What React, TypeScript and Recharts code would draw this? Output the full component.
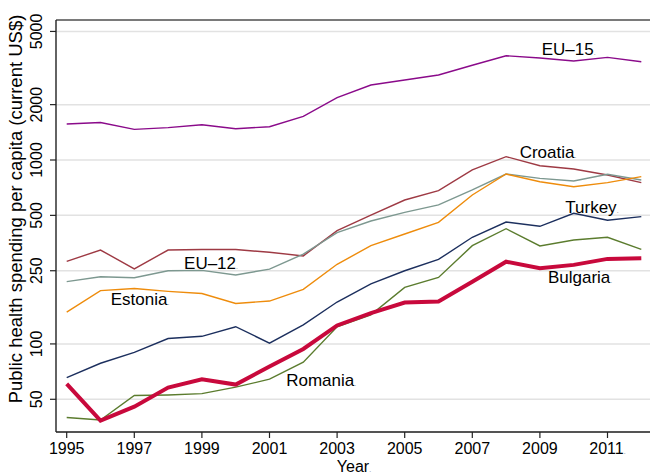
import React from 'react';
import {
  LineChart,
  Line,
  XAxis,
  YAxis,
  CartesianGrid,
  ReferenceLine,
  ReferenceDot,
} from 'recharts';

const YEARS = [1995, 1996, 1997, 1998, 1999, 2000, 2001, 2002, 2003, 2004, 2005, 2006, 2007, 2008, 2009, 2010, 2011, 2012];

const EU15 = [1570, 1600, 1468, 1500, 1556, 1480, 1517, 1728, 2183, 2556, 2723, 2899, 3274, 3688, 3584, 3451, 3615, 3420];
const CROATIA = [281, 324, 256, 324, 326, 326, 315, 301, 413, 502, 606, 681, 883, 1043, 931, 894, 829, 753];
const EU12 = [218, 232, 229, 250, 251, 237, 255, 308, 403, 466, 519, 570, 687, 839, 795, 769, 836, 778];
const ESTONIA = [149, 195, 200, 193, 188, 166, 171, 198, 271, 342, 396, 458, 645, 839, 762, 716, 753, 812];
const TURKEY = [65.6, 78.5, 90, 107, 110, 124, 101, 127, 169, 212, 250, 288, 380, 460, 436, 513, 470, 492];
const ROMANIA = [39.8, 38.6, 52.4, 52.8, 53.7, 58.2, 64.3, 79.5, 124, 144, 203, 230, 342, 423, 341, 367, 380, 327];
const BULGARIA = [60.6, 38.3, 45.6, 57.9, 64.3, 60.1, 75.3, 93.9, 126, 147, 168, 170, 218, 280, 258, 269, 290, 292];

const X_TICKS = [1995, 1997, 1999, 2001, 2003, 2005, 2007, 2009, 2011];
const Y_TICKS = [50, 100, 250, 500, 1000, 2000, 5000];
const Y_DOMAIN = [33.2, 5770];

// series labels, placed in data coordinates (year, value)
const LABEL_TEXT = ['EU\u201315', 'Croatia', 'Turkey', 'Bulgaria', 'EU\u201312', 'Estonia', 'Romania'];
const LABEL_YEAR = [2009.85, 2009.24, 2010.54, 2010.19, 1999.27, 1997.17, 2002.53];
const LABEL_VALUE = [4008, 1104, 556, 231, 276, 176, 63.7];

const FONT = '"Liberation Sans", Arial, Helvetica, sans-serif';

const data = YEARS.map((year, i) => ({
  year,
  eu15: EU15[i],
  croatia: CROATIA[i],
  eu12: EU12[i],
  estonia: ESTONIA[i],
  turkey: TURKEY[i],
  romania: ROMANIA[i],
  bulgaria: BULGARIA[i],
}));

const series = [
  { key: 'eu15', color: '#8a0a8a', width: 1.4 },
  { key: 'croatia', color: '#9e3a44', width: 1.4 },
  { key: 'eu12', color: '#7d9890', width: 1.4 },
  { key: 'estonia', color: '#ee8c0c', width: 1.4 },
  { key: 'turkey', color: '#1c2f5e', width: 1.4 },
  { key: 'romania', color: '#5b7c2e', width: 1.4 },
  { key: 'bulgaria', color: '#c8093c', width: 4 },
];

const Dot = () => (
  <tspan fontSize={7} fill="#888">.</tspan>
);

const XTick = (props: any) => {
  const { x, y, payload } = props;
  return (
    <text x={x} y={y} dy="0.71em" textAnchor="middle" fontSize={16} fontFamily={FONT} fill="#000">
      {payload.value}
      {payload.value === 2011 ? <Dot /> : null}
    </text>
  );
};

const YTick = (props: any) => {
  const { x, y, payload } = props;
  return (
    <text
      x={x}
      y={y}
      transform={`rotate(-90 ${x} ${y})`}
      textAnchor="middle"
      fontSize={16}
      fontFamily={FONT}
      fill="#000"
    >
      {payload.value}
    </text>
  );
};

const LabelShape = (text: string) => (props: any) => (
  <text x={props.cx} y={props.cy} dy="0.36em" textAnchor="middle" fontSize={17} fontFamily={FONT} fill="#000">
    {text}
    <Dot />
  </text>
);

export default function App() {
  return (
    <div style={{ width: 650, height: 474 }}>
      <style>{'body { margin: 0; }'}</style>
      <LineChart width={650} height={474} data={data} margin={{ top: 20, right: 0, left: 0, bottom: 0 }}>
        <CartesianGrid vertical={false} stroke="#e2e2e2" strokeWidth={1.5} />
        <XAxis
          dataKey="year"
          type="number"
          domain={[1995, 2012]}
          ticks={X_TICKS}
          padding={{ left: 10.7, right: 8.7 }}
          height={42}
          tickSize={6}
          tickMargin={5}
          tick={<XTick />}
          axisLine={{ stroke: '#222', strokeWidth: 1.4 }}
          tickLine={{ stroke: '#222', strokeWidth: 1.2 }}
          label={(p: any) => {
            const vb = p.viewBox;
            return (
              <text x={vb.x + vb.width / 2 + 1} y={472} textAnchor="middle" fontSize={16} fontFamily={FONT} fill="#000">
                Year
                <Dot />
              </text>
            );
          }}
        />
        <YAxis
          type="number"
          scale="log"
          domain={Y_DOMAIN}
          allowDataOverflow
          ticks={Y_TICKS}
          width={56}
          tickSize={6}
          tickMargin={8}
          tick={<YTick />}
          axisLine={{ stroke: '#222', strokeWidth: 1.4 }}
          tickLine={{ stroke: '#222', strokeWidth: 1.2 }}
          label={() => (
            <text
              x={22}
              y={209}
              transform="rotate(-90 22 209)"
              textAnchor="middle"
              fontSize={18.5}
              fontFamily={FONT}
              fill="#000"
            >
              Public health spending per capita (current US$)
            </text>
          )}
        />
        <ReferenceLine y={Y_DOMAIN[1]} stroke="#555" strokeWidth={1.4} />
        {series.map((s) => (
          <Line
            key={s.key}
            dataKey={s.key}
            stroke={s.color}
            strokeWidth={s.width}
            dot={false}
            activeDot={false}
            isAnimationActive={false}
          />
        ))}
        {LABEL_TEXT.map((t, i) => (
          <ReferenceDot
            key={t}
            x={LABEL_YEAR[i]}
            y={LABEL_VALUE[i]}
            r={0}
            shape={LabelShape(t)}
          />
        ))}
      </LineChart>
    </div>
  );
}
